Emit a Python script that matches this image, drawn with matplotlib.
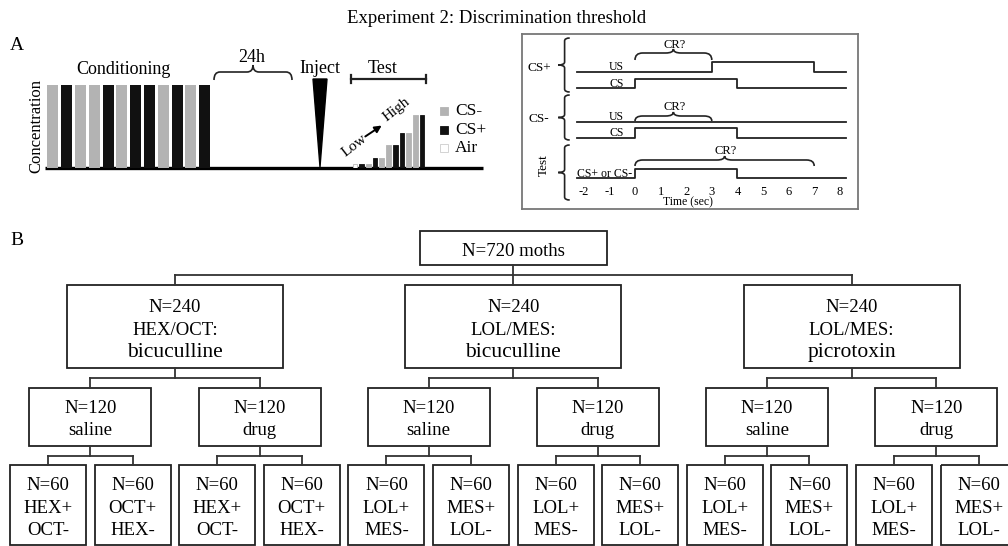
import numpy as np
import matplotlib.pyplot as plt
from matplotlib.patches import Rectangle, Polygon, PathPatch
from matplotlib.path import Path

plt.rcParams['font.family'] = ['Liberation Serif', 'DejaVu Serif']

# ---- data ----
title = "Experiment 2: Discrimination threshold"

# panel A: conditioning trials and test series (concentration relative to conditioning)
cond_seq = ['CS-', 'CS+', 'CS-', 'CS-', 'CS+', 'CS-', 'CS+', 'CS+', 'CS-', 'CS+', 'CS-', 'CS+']
cond_conc = [1.0] * 12
test_seq = ['Air', 'CS+', 'CS-', 'CS+', 'CS-', 'CS-', 'CS+', 'CS+', 'CS-', 'CS-', 'CS+']
test_conc = [0.045, 0.045, 0.045, 0.115, 0.115, 0.28, 0.28, 0.42, 0.42, 0.64, 0.64]
stim_colors = {'CS-': '#b3b3b3', 'CS+': '#111111', 'Air': 'white'}
legend_labels = ['CS-', 'CS+', 'Air']

# timeline (seconds)
time_ticks = list(range(-2, 9))
row_names = ['US', 'CS', 'US', 'CS', 'CS+ or CS-']
row_on = [3, 0, None, 0, 0]
row_off = [7, 4, None, 4, 4]
cr_windows = [(0, 3), (0, 3), (0, 7)]
trial_types = ['CS+', 'CS-', 'Test']

# panel B: design tree
n_total, n_group, n_treat, n_leaf = 720, 240, 120, 60
group_odors = [('HEX', 'OCT'), ('LOL', 'MES'), ('LOL', 'MES')]
group_drugs = ['bicuculline', 'bicuculline', 'picrotoxin']
treatments = ['saline', 'drug']

# ---- figure ----
W, H = 1008, 546
fig = plt.figure(figsize=(W / 100, H / 100), dpi=100)
ax = fig.add_axes([0, 0, 1, 1])
ax.set_xlim(0, W)
ax.set_ylim(H, 0)
ax.axis('off')


def rect(x0, y0, x1, y1):
    return [x0 / W, 1 - y1 / H, (x1 - x0) / W, (y1 - y0) / H]


def brace(a, x0, x1, yb, yf, yt, rx, vertical=False, **kw):
    xm = (x0 + x1) / 2
    pts = [(x0, yb), (x0, yf), (x0 + rx, yf), (xm - rx, yf), (xm, yf), (xm, yt),
           (xm, yf), (xm + rx, yf), (x1 - rx, yf), (x1, yf), (x1, yb)]
    codes = [Path.MOVETO, Path.CURVE3, Path.CURVE3, Path.LINETO, Path.CURVE3, Path.CURVE3,
             Path.CURVE3, Path.CURVE3, Path.LINETO, Path.CURVE3, Path.CURVE3]
    if vertical:
        pts = [(p[1], p[0]) for p in pts]
    a.add_patch(PathPatch(Path(pts, codes), fill=False, lw=1.2, color='#222', **kw))


ax.text(497, 23, title, ha='center', va='baseline', fontsize=13.5)
ax.text(10, 50, 'A', fontsize=14, va='baseline')
ax.text(10, 245, 'B', fontsize=14, va='baseline')

# ---- panel A left ----
ax_c = fig.add_axes(rect(45, 85, 230, 168))
ax_c.bar(range(len(cond_seq)), cond_conc, width=0.8,
         color=[stim_colors[s] for s in cond_seq])
ax_c.set_xlim(-0.57, -0.57 + 185 / 13.8)
ax_c.set_ylim(0, 1)
ax_c.axis('off')

ax_t2 = fig.add_axes(rect(350, 85, 430, 168))
ax_t2.bar(range(len(test_seq)), test_conc, width=0.7,
          color=[stim_colors[s] for s in test_seq],
          edgecolor=['#bbbbbb' if s == 'Air' else stim_colors[s] for s in test_seq], lw=0.6)
ax_t2.set_xlim(-0.75, -0.75 + 80 / 6.7)
ax_t2.set_ylim(0, 1)
ax_t2.axis('off')

ax.plot([45, 483], [168, 168], color='black', lw=2.4, solid_capstyle='butt')
ax.text(36, 126, 'Concentration', rotation=90, ha='center', va='center', fontsize=12)
ax.text(123, 74, 'Conditioning', ha='center', va='baseline', fontsize=13)

brace(ax, 214, 292, 80, 72, 65, 6)
ax.text(252, 61.5, '24h', ha='center', va='baseline', fontsize=13)

ax.add_patch(Polygon([(313, 79), (327, 79), (320, 167)], closed=True, color='black'))
ax.text(320, 73, 'Inject', ha='center', va='baseline', fontsize=13)

ax.text(383, 73, 'Test', ha='center', va='baseline', fontsize=13)
ax.plot([351, 426], [79, 79], color='#222', lw=1.6)
ax.plot([351, 351], [75, 83], color='#222', lw=1.6)
ax.plot([426, 426], [75, 83], color='#222', lw=1.6)

ax.text(354, 146, 'Low', rotation=38, ha='center', va='center', fontsize=11)
ax.text(396, 110, 'High', rotation=38, ha='center', va='center', fontsize=11)
ax.annotate('', xy=(384, 124), xytext=(363, 138),
            arrowprops=dict(arrowstyle='-|>', color='black', lw=1.4, mutation_scale=10))

for i, lab in enumerate(legend_labels):
    yc = 111 + i * 18.5
    ax.add_patch(Rectangle((440, yc - 4), 8, 8, facecolor=stim_colors[lab],
                           edgecolor='#cccccc' if lab == 'Air' else stim_colors[lab], lw=0.6))
    ax.text(455, yc, lab, va='center', fontsize=12.5)

# ---- panel A right: timeline ----
t0_px, px_per_s = 635, 25.6
ax_t = fig.add_axes(rect(522, 34, 858, 209))
ax_t.set_xlim((522 - t0_px) / px_per_s, (858 - t0_px) / px_per_s)
ax_t.set_ylim(209, 34)
ax_t.set_xticks([])
ax_t.set_yticks([])
for s in ax_t.spines.values():
    s.set_color('#777777')
    s.set_linewidth(1.3)

row_y = [71.7, 88.3, 121.7, 137.7, 178.3]
pulse_h = 9.5
t_start, t_end = -2.25, 8.25
for name, on, off, y in zip(row_names, row_on, row_off, row_y):
    if on is None:
        xs, ys = [t_start, t_end], [y, y]
    else:
        xs = [t_start, on, on, off, off, t_end]
        ys = [y, y, y - pulse_h, y - pulse_h, y, y]
    ax_t.plot(xs, ys, color='#222', lw=1.3)
    ax_t.text(-0.45 if name != 'CS+ or CS-' else -0.1, y - 1.5, name,
              ha='right', va='baseline', fontsize=8.5)

cr_y = [(60, 53, 49), (121, 116, 112), (166, 160, 156)]
for (a, b), (yb, yf, yt) in zip(cr_windows, cr_y):
    brace(ax_t, a, b, yb, yf, yt, 0.3)
    ax_t.text((a + b) / 2 + 0.05, yt - 1.5, 'CR?', ha='center', va='baseline', fontsize=9)

side = [(38, 92), (95, 140), (145, 200)]
label_y = [68, 119, 165]
for (y0, y1), lab, ly in zip(side, trial_types, label_y):
    brace(ax_t, y0, y1, -2.55, -2.75, -3.0, 3, vertical=True)
    if lab == 'Test':
        ax_t.text(-3.55, ly, lab, rotation=90, ha='center', va='center', fontsize=9.5)
    else:
        ax_t.text(-3.75, ly, lab, ha='center', va='center', fontsize=9.5)

for t in time_ticks:
    ax_t.text(t, 192, str(t), ha='center', va='center', fontsize=9)
ax_t.text(2.07, 202.5, 'Time (sec)', ha='center', va='center', fontsize=8.5)

# ---- panel B: tree ----
box_kw = dict(fill=False, edgecolor='#222', lw=1.3)
line_kw = dict(color='#333', lw=1.3)

leaf_w, leaf_pitch, leaf_x0 = 76, 84.6, 10
n_leaves = len(group_odors) * len(treatments) * 2
leaf_cx = leaf_x0 + leaf_w / 2 + np.arange(n_leaves) * leaf_pitch
treat_cx = leaf_cx.reshape(-1, 2).mean(axis=1)
group_cx = leaf_cx.reshape(-1, 4).mean(axis=1)
top_cx = group_cx.mean()

top_y, grp_y, trt_y, leaf_y = (231, 265), (285, 368), (388, 446), (465, 545)
top_w, grp_w, trt_w = 187, 216, 122


def box(cx, w, ys):
    ax.add_patch(Rectangle((cx - w / 2, ys[0]), w, ys[1] - ys[0], **box_kw))


def connect(pcx, pbot, ccx, ctop):
    mid = (pbot + ctop) / 2
    ax.plot([pcx, pcx], [pbot, mid], **line_kw)
    ax.plot([min(ccx), max(ccx)], [mid, mid], **line_kw)
    for c in ccx:
        ax.plot([c, c], [mid, ctop], **line_kw)


box(top_cx, top_w, top_y)
ax.text(top_cx, 256, f'N={n_total} moths', ha='center', va='baseline', fontsize=13.5)
connect(top_cx, top_y[1], group_cx, grp_y[0])

for g, gcx in enumerate(group_cx):
    box(gcx, grp_w, grp_y)
    a, b = group_odors[g]
    ax.text(gcx, 311.7, f'N={n_group}', ha='center', va='baseline', fontsize=13.5)
    ax.text(gcx, 335, f'{a}/{b}:', ha='center', va='baseline', fontsize=13.5)
    ax.text(gcx, 357.3, group_drugs[g], ha='center', va='baseline', fontsize=15.5)
    tcx = treat_cx[2 * g:2 * g + 2]
    connect(gcx, grp_y[1], tcx, trt_y[0])
    for k, c in enumerate(tcx):
        box(c, trt_w, trt_y)
        ax.text(c, 413.3, f'N={n_treat}', ha='center', va='baseline', fontsize=13.5)
        ax.text(c, 435, treatments[k], ha='center', va='baseline', fontsize=13.5)
        li = 4 * g + 2 * k
        lcx = leaf_cx[li:li + 2]
        connect(c, trt_y[1], lcx, leaf_y[0])
        for j, lc in enumerate(lcx):
            box(lc, leaf_w, leaf_y)
            plus, minus = (a, b) if j == 0 else (b, a)
            ax.text(lc, 490, f'N={n_leaf}', ha='center', va='baseline', fontsize=13.5)
            ax.text(lc, 512.7, f'{plus}+', ha='center', va='baseline', fontsize=13.5)
            ax.text(lc, 535, f'{minus}-', ha='center', va='baseline', fontsize=13.5)

fig.savefig('out.png', dpi=100)
